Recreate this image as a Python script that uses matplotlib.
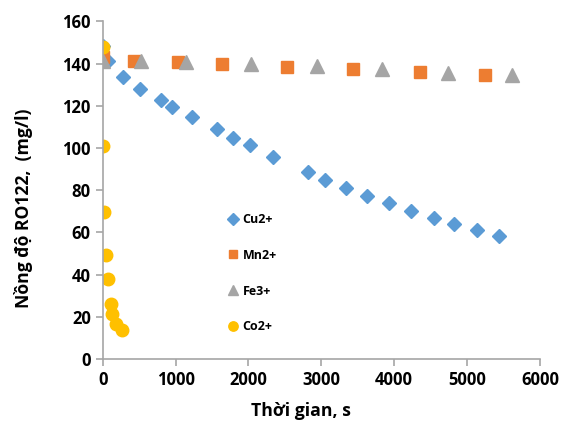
import matplotlib
matplotlib.use("Agg")
import matplotlib.pyplot as plt

plt.rcParams['font.family'] = ['Open Sans', 'DejaVu Sans']

cu_t = [0, 73, 278, 507, 800, 955, 1221, 1572, 1787, 2016, 2332, 2820, 3049, 3333, 3626, 3927, 4229, 4549, 4819, 5134, 5432]
cu_c = [148.5, 141.2, 133.6, 128.1, 122.7, 119.3, 114.7, 108.9, 104.9, 101.3, 95.9, 88.5, 84.8, 81.0, 77.3, 73.8, 70.1, 66.7, 64.1, 61.0, 58.4]

mn_t = [0, 430, 1030, 1640, 2535, 3440, 4356, 5250]
mn_c = [143.0, 141.5, 141.0, 139.8, 138.4, 137.4, 136.0, 134.6]

fe_t = [0, 520, 1140, 2030, 2945, 3835, 4740, 5620]
fe_c = [141.5, 141.3, 140.6, 139.8, 138.8, 137.4, 135.5, 134.6]

co_t = [0, 10, 20, 50, 70, 110, 125, 180, 260]
co_c = [148.0, 101.0, 69.7, 49.3, 37.9, 26.0, 21.3, 16.6, 13.7]

fig = plt.figure(figsize=(5.64, 4.30), dpi=100)
ax = fig.add_axes([0.182, 0.165, 0.7755, 0.785])

ax.plot(cu_t, cu_c, linestyle='none', marker='D', markersize=7.5, color='#5B9BD5', label='Cu2+')
ax.plot(mn_t, mn_c, linestyle='none', marker='s', markersize=8, color='#ED7D31', label='Mn2+')
ax.plot(fe_t, fe_c, linestyle='none', marker='^', markersize=10, color='#A5A5A5', label='Fe3+')
ax.plot(co_t, co_c, linestyle='none', marker='o', markersize=9, color='#FFC000', label='Co2+')

ax.set_xlim(0, 6000)
ax.set_ylim(0, 160)
ax.set_xticks(range(0, 6001, 1000))
ax.set_yticks(range(0, 161, 20))

for s in ['top', 'right']:
    ax.spines[s].set_visible(False)
for s in ['left', 'bottom']:
    ax.spines[s].set_color('#A6A6A6')
    ax.spines[s].set_linewidth(1.2)
ax.tick_params(axis='both', colors='#A6A6A6', length=5, width=1.2, labelcolor='black', labelsize=12)
for lab in ax.get_xticklabels() + ax.get_yticklabels():
    lab.set_fontweight('bold')

ax.set_xlabel('Thời gian, s', fontsize=12.7, fontweight='bold')
ax.set_ylabel('Nồng độ RO122,  (mg/l)', fontsize=12.6, fontweight='bold')
ax.xaxis.set_label_coords(0.453, -0.127)
ax.yaxis.set_label_coords(-0.159, 0.447)

leg = ax.legend(loc='upper left', bbox_to_anchor=(0.26, 0.466), frameon=False,
                handlelength=0.8, handletextpad=0.4, labelspacing=1.82, markerscale=0.75,
                prop={'weight': 'bold', 'size': 9})

fig.savefig('out.png', dpi=100)
